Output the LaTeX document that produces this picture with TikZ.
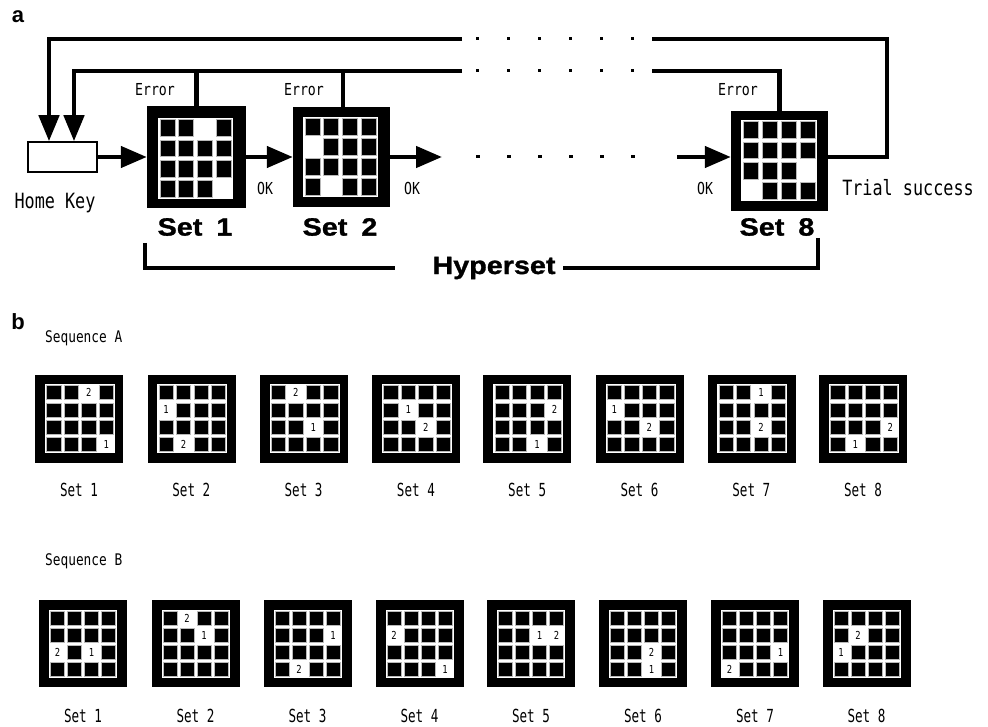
\documentclass[tikz,border=0pt]{standalone}
\usepackage{fontspec}
\setmainfont{Liberation Sans}
\newfontfamily\gth[FakeStretch=0.8]{DejaVu Sans Mono}
\newfontfamily\gtn[FakeStretch=0.7]{DejaVu Sans Mono}
\newfontfamily\hvb[FakeStretch=1.15,FakeBold=1.2]{Liberation Sans}
\usetikzlibrary{arrows.meta}
\tikzset{
  lp/.style={line width=4.5pt},
  bigtip/.style={-{Triangle[length=26pt,width=21pt]}},
  downtip/.style={-{Triangle[length=26pt,width=20pt]}},
  frm/.style={rectangle,fill=black,inner sep=0pt,draw=none},
  cellblk/.style={fill=black,draw=gray!55,line width=0.6pt},
  numlbl/.style={inner sep=0pt,font=\gth\fontsize{11}{12}\selectfont},
  glbl/.style={inner sep=0pt,font=\gth\fontsize{16.5}{18}\selectfont},
  biglbl/.style={inner sep=0pt,font=\gth\fontsize{21}{24}\selectfont},
  setlbl/.style={inner sep=0pt,font=\gtn\fontsize{18}{20}\selectfont},
  seqlbl/.style={inner sep=0pt,font=\gth\fontsize{16}{18}\selectfont},
  boldlbl/.style={inner sep=0pt,font=\hvb\bfseries\fontsize{25}{28}\selectfont},
  panel/.style={inner sep=0pt,font=\bfseries\fontsize{22}{24}\selectfont},
  dotsq/.style={fill=black}
}
% #1 x0, #2 y0, #3 cell w, #4 cell h, #5 inset, #6 rows, #7 name prefix
\newcommand\cellgrid[7]{%
  \foreach \rowl [count=\ri from 0] in {#6} {%
    \foreach \cv [count=\ci from 0] in \rowl {%
      \if\cv x
        \filldraw[cellblk] ({#1+\ci*#3+#5},{#2+\ri*#4+#5}) rectangle ({#1+(\ci+1)*#3-#5},{#2+(\ri+1)*#4-#5});
      \else\if\cv o\else
        \node[numlbl] (#7-\ri-\ci) at ({#1+(\ci+0.5)*#3},{#2+(\ri+0.5)*#4}) {\cv};
      \fi\fi
    }%
  }%
}
% sequence A box: #1 name, #2 left, #3 rows, #4 label
\newcommand\seqAbox[4]{%
  \node[frm,anchor=north west,minimum width=88pt,minimum height=88pt] (#1) at (#2,375) {};
  \fill[white] ({#2+10},384) rectangle ({#2+80},453);
  \cellgrid{#2+10}{384}{17.5}{17.25}{1.6}{#3}{#1n}
  \node[setlbl] (#1l) at ({#2+44},490) {#4};
}
\newcommand\seqBbox[4]{%
  \node[frm,anchor=north west,minimum width=88pt,minimum height=87pt] (#1) at (#2,600) {};
  \fill[white] ({#2+10},610) rectangle ({#2+78},678);
  \cellgrid{#2+10}{610}{17}{17}{1.6}{#3}{#1n}
  \node[setlbl] (#1l) at ({#2+44},716) {#4};
}
\begin{document}
\begin{tikzpicture}[x=1pt,y=-1pt]
\useasboundingbox (0,0) rectangle (988,727);
% ---------------- panel a ----------------
\node[panel] (pa) at (18,17) {a};

\node[draw=black,line width=1.5pt,fill=white,minimum width=69pt,minimum height=30pt,inner sep=0pt] (hk) at (62.5,157) {};
\node[biglbl] (hkl) at (55,203) {Home Key};

% loop coordinates
\coordinate (o1) at (462,39);
\coordinate (xo) at (49,39);
\coordinate (i1) at (462,71);
\coordinate (xi) at (74,71);
\coordinate (o2) at (652,39);
\coordinate (i2) at (652,71);
\coordinate (xr) at (887,157);
\coordinate (xe1) at (196.5,71);
\coordinate (xe2) at (343,71);

\draw[lp,downtip] (o1) -- (xo) -- (xo |- hk.north);
\draw[lp,downtip] (i1) -- (xi) -- (xi |- hk.north);

% boxes of panel a
\node[frm,minimum width=99pt,minimum height=102pt] (s1) at (196.5,157) {};
\node[frm,minimum width=97pt,minimum height=100pt] (s2) at (341.5,157) {};
\node[frm,minimum width=97pt,minimum height=100pt] (s8) at (779.5,161) {};

\draw[lp] (xe1) -- (xe1 |- s1.north);
\draw[lp] (xe2) -- (xe2 |- s2.north);
\draw[lp] (i2) -| (s8.north);
\draw[lp] (o2) -| (xr) -- (xr -| s8.east);

\fill[white] (158,118) rectangle (233,199);
\cellgrid{158}{118}{18.75}{20.25}{1.8}{{x,x,o,x},{x,x,x,x},{x,x,x,x},{x,x,x,o}}{s1n}
\fill[white] (303,117) rectangle (378,197);
\cellgrid{303}{117}{18.75}{20}{1.8}{{x,x,x,x},{o,x,x,x},{x,x,x,x},{x,o,x,x}}{s2n}
\fill[white] (741,120) rectangle (817,201);
\cellgrid{741}{120}{19}{20.25}{1.8}{{x,x,x,x},{x,x,x,x},{x,x,x,o},{o,x,x,x}}{s8n}

% main row arrows
\coordinate (c2out) at (442,157);
\coordinate (c8in) at (677,157);
\draw[lp,bigtip] (hk.east) -- (s1.west |- hk.east);
\draw[lp,bigtip] (s1.east |- hk.east) -- (s2.west |- hk.east);
\draw[lp,bigtip] (s2.east |- hk.east) -- (c2out);
\draw[lp,bigtip] (c8in) -- (s8.west |- c8in);

% dotted gaps
\foreach \i in {0,...,5} {
  \fill[dotsq] ({476+31*\i},37.5) rectangle ({479+31*\i},40.5);
  \fill[dotsq] ({476+31*\i},69.5) rectangle ({479+31*\i},72.5);
  \fill[dotsq] ({475.5+31*\i},155.5) rectangle ({479.5+31*\i},158.5);
}

% labels
\node[glbl] (e1) at (155,90) {Error};
\node[glbl] (e2) at (304,90) {Error};
\node[glbl] (e8) at (738,90) {Error};
\node[glbl] (ok1) at (265,188) {OK};
\node[glbl] (ok2) at (412,188) {OK};
\node[glbl] (ok8) at (705,188) {OK};
\node[biglbl] (ts) at (908,188) {Trial success};
\node[boldlbl] (sl1) at (195,227) {Set\hspace{14pt}1};
\node[boldlbl] (sl2) at (340,227) {Set\hspace{14pt}2};
\node[boldlbl] (sl8) at (777,227) {Set\hspace{14pt}8};

% hyperset bracket
\node[boldlbl] (hyp) at (494,268) {Hyperset};
\coordinate (hL) at (145,243);
\coordinate (hR) at (818,238);
\coordinate (hLe) at (395,268);
\coordinate (hRe) at (563,268);
\draw[lp] (hL) |- (hLe);
\draw[lp] (hR) |- (hRe);

% ---------------- panel b ----------------
\node[panel] (pb) at (18,322) {b};
\node[seqlbl,anchor=west] (sqa) at (45,338) {Sequence A};
\node[seqlbl,anchor=west] (sqb) at (45,561) {Sequence B};

\seqAbox{a1}{35}{{x,x,2,x},{x,x,x,x},{x,x,x,x},{x,x,x,1}}{Set 1}
\seqAbox{a2}{147.3}{{x,x,x,x},{1,x,x,x},{x,x,x,x},{x,2,x,x}}{Set 2}
\seqAbox{a3}{259.6}{{x,2,x,x},{x,x,x,x},{x,x,1,x},{x,x,x,x}}{Set 3}
\seqAbox{a4}{371.9}{{x,x,x,x},{x,1,x,x},{x,x,2,x},{x,x,x,x}}{Set 4}
\seqAbox{a5}{483.2}{{x,x,x,x},{x,x,x,2},{x,x,x,x},{x,x,1,x}}{Set 5}
\seqAbox{a6}{595.5}{{x,x,x,x},{1,x,x,x},{x,x,2,x},{x,x,x,x}}{Set 6}
\seqAbox{a7}{707.3}{{x,x,1,x},{x,x,x,x},{x,x,2,x},{x,x,x,x}}{Set 7}
\seqAbox{a8}{819}{{x,x,x,x},{x,x,x,x},{x,x,x,2},{x,1,x,x}}{Set 8}

\seqBbox{b1}{39}{{x,x,x,x},{x,x,x,x},{2,x,1,x},{x,x,x,x}}{Set 1}
\seqBbox{b2}{151.5}{{x,2,x,x},{x,x,1,x},{x,x,x,x},{x,x,x,x}}{Set 2}
\seqBbox{b3}{263.5}{{x,x,x,x},{x,x,x,1},{x,x,x,x},{x,2,x,x}}{Set 3}
\seqBbox{b4}{375.5}{{x,x,x,x},{2,x,x,x},{x,x,x,x},{x,x,x,1}}{Set 4}
\seqBbox{b5}{487}{{x,x,x,x},{x,x,1,2},{x,x,x,x},{x,x,x,x}}{Set 5}
\seqBbox{b6}{599}{{x,x,x,x},{x,x,x,x},{x,x,2,x},{x,x,1,x}}{Set 6}
\seqBbox{b7}{711}{{x,x,x,x},{x,x,x,x},{x,x,x,1},{2,x,x,x}}{Set 7}
\seqBbox{b8}{822.5}{{x,x,x,x},{x,2,x,x},{1,x,x,x},{x,x,x,x}}{Set 8}
\end{tikzpicture}
\end{document}
